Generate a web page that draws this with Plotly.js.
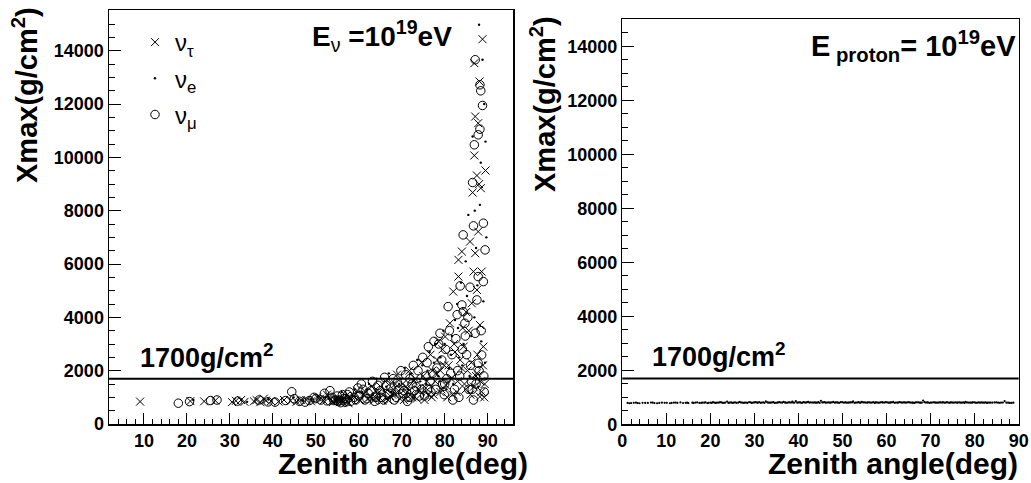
<!DOCTYPE html>
<html>
<head>
<meta charset="utf-8">
<script src="https://cdn.plot.ly/plotly-3.0.1.min.js"></script>
<style>html,body{margin:0;padding:0;background:#fff;}#chart{width:1031px;height:483px;}</style>
</head>
<body>
<div id="chart"></div>
<script>
// ---- data ----
const tauAngle = [9.1,20.8,24.0,26.6,30.5,31.4,32.6,33.4,35.6,36.2,37.1,37.9,38.4,39.6,41.3,42.6,44.1,45.5,47.8,50.3,52.6,54.5,55.2,56.3,57.0,58.4,59.6,61.0,62.1,63.0,63.9,64.8,65.5,66.2,67.3,68.0,68.9,69.6,70.2,70.9,71.8,72.4,73.1,73.8,74.6,75.3,75.9,76.7,77.4,78.0,78.6,79.2,79.9,80.1,80.6,81.2,81.5,82.0,82.4,82.8,83.2,83.2,83.6,84.0,84.2,84.6,85.0,85.3,85.9,86.0,86.3,86.5,86.7,86.9,86.9,87.1,87.1,87.3,87.5,87.5,87.5,87.8,87.8,88.0,88.1,88.2,88.2,88.4,88.6,88.6,88.8,89.0,89.3,89.5,55.6,56.0,57.6,53.8,66.8,71.0,77.0,79.0,
  46.5,48.9,51.0,51.8,53.1,54.0,54.9,55.9,56.7,57.3,58.9,60.3,61.6,62.6,63.5,64.4,65.1,66.5,67.8,68.5,69.2,70.5,71.3,72.0,72.8,73.5,74.2,75.0,75.6,76.3,77.1,77.8,78.3,79.0,79.5,80.3,80.9,81.8,82.2,83.0,83.9,84.4,84.9,85.6,86.2,86.8,87.6,88.3,88.9,89.2];
const tauXmax  = [840,860,850,880,820,870,900,830,850,900,820,950,880,860,840,900,870,830,900,1000,1100,880,950,820,1050,900,1250,1100,950,1400,1000,1200,880,1600,1050,1300,1850,950,1500,1150,2000,1000,1700,1300,2300,900,1600,2600,1100,1900,3100,1300,2200,3277,1000,3778,1700,4965,2700,1200,5528,6154,2400,6466,3600,1500,4200,2000,6840,1100,4528,8680,5715,10070,13530,6405,11530,1800,9318,5028,1902,7216,11280,8995,12845,3715,1024,8845,5715,1212,14430,2900,1500,9505,820,900,780,850,900,1400,1000,2000,
  900,850,950,880,1000,820,900,870,950,860,1050,900,1200,1000,880,1150,1400,950,1100,1500,1250,900,1350,1100,1600,950,1250,1800,1350,1100,2000,1600,2400,1200,2800,1450,2200,1100,3000,1600,2100,2900,1300,3500,2300,1400,2600,1600,2200,1000];

const eAngle = [21.5,34.0,39.0,44.8,47.0,50.5,53.0,56.0,58.6,60.2,61.8,63.3,64.1,65.8,67.0,68.6,69.4,70.7,71.5,72.9,73.6,74.3,75.1,76.0,76.5,77.1,77.9,78.5,79.0,79.7,80.4,81.0,81.7,82.4,82.9,83.4,83.8,84.4,84.9,85.5,85.8,86.5,86.9,87.3,87.8,88.0,88.2,88.5,88.8,89.0,89.5,89.4,89.6,89.7,
  45.9,49.0,52.2,54.8,57.2,59.1,60.8,62.4,64.8,66.4,67.6,69.9,72.2,74.8,75.7,77.5,78.8,80.0,81.4,82.0,83.1,84.1,85.2,86.2,87.0,87.6,88.4,89.2];
const eXmax  = [900,830,920,1000,880,1050,950,1200,1050,900,1300,1100,1700,1250,1900,1100,1500,2100,1300,1000,2400,1600,1100,2000,2700,1400,3000,1800,2500,3500,1300,2100,3300,3902,4500,2500,5300,3000,6100,7842,1800,10780,4000,6600,1400,14970,8218,3100,13660,4600,10590,2300,1700,7000,
  900,950,1000,850,1100,1300,1200,1500,1000,1400,1200,1700,1900,2200,1500,2300,1600,3000,2600,1500,3600,2200,4800,3300,8000,5200,9800,12000];

const muAngle = [18.0,20.6,25.5,27.0,31.8,36.8,38.9,40.5,43.0,44.4,45.0,46.2,48.5,49.6,51.2,52.0,53.3,54.2,55.0,55.8,56.6,57.4,58.1,58.9,59.8,60.6,61.4,62.2,62.9,63.7,64.5,65.3,66.0,66.8,67.5,68.3,69.0,69.8,70.5,71.3,71.9,72.7,73.4,74.1,74.9,75.6,76.2,76.8,77.5,78.2,78.9,79.5,80.2,80.8,81.4,81.9,82.6,83.0,83.6,84.0,84.3,84.3,84.7,85.1,85.6,85.9,86.2,86.5,86.7,86.7,87.1,87.1,87.5,87.8,87.8,87.8,88.2,88.2,88.4,88.6,88.8,86.9,89.0,89.0,89.4,89.2,55.4,56.9,64.0,72.0,76.0,80.0,83.3,
  47.5,50.0,52.6,53.8,54.6,55.3,56.2,57.0,57.8,59.3,60.0,61.0,61.9,63.2,64.0,65.0,65.8,66.4,67.2,68.0,68.7,69.4,70.2,70.9,71.6,72.4,73.0,73.8,74.6,75.3,75.9,76.6,77.2,77.9,78.6,79.3,79.9,80.5,81.1,81.7,82.3,82.9,83.5,84.1,84.8,85.4,86.0,86.4,87.3,88.0,88.5,89.1];
const muXmax  = [780,840,880,900,860,900,830,820,880,1210,950,850,880,1000,900,1150,1250,880,1050,800,950,1100,850,1000,1350,1500,900,1150,1250,850,1450,1000,1750,1100,1350,900,1550,2000,1250,850,1700,2200,1400,1050,2500,1800,2900,1200,3100,2100,3403,1500,2800,4402,1900,900,3200,2000,5178,4465,4214,7092,3778,2600,1300,5130,1600,9055,7430,900,3403,13660,4653,5528,10845,2277,11055,12720,12495,2589,11945,10470,5340,7530,6530,1200,900,820,1000,1000,1300,1500,1000,
  820,950,870,1000,900,850,1100,950,1200,900,1050,1300,950,1600,1050,1250,900,1450,1150,1700,1000,1300,1150,1850,1000,1500,1250,2000,1300,1050,2300,1600,1900,1300,3000,2400,1100,1700,3500,2600,1300,4100,1800,2800,3300,4000,2200,1300,1500,2000,3500,1800];

const protonAngle = [1.2,2.0,3.1,3.9,4.6,5.8,6.5,7.3,8.4,9.0,10.1,10.8,11.7,12.5,13.2,14.4,15.0,15.9,16.6,17.5,18.2,18.9,19.6,20.3,20.9,21.5,22.2,22.8,23.4,24.1,24.7,25.3,25.9,26.6,27.2,27.8,28.4,29.1,29.7,30.3,30.8,31.4,32.0,32.6,33.1,33.7,34.3,34.9,35.4,36.0,36.6,37.1,37.7,38.3,38.8,39.4,40.0,40.5,41.1,41.7,42.2,42.8,43.4,43.9,44.5,45.1,45.6,46.2,46.8,47.3,47.9,48.5,49.0,49.6,50.2,50.7,51.3,51.9,52.4,53.0,53.6,54.1,54.7,55.3,55.8,56.4,57.0,57.5,58.1,58.7,59.2,59.8,60.4,60.9,61.5,62.1,62.6,63.2,63.8,64.3,64.9,65.5,66.0,66.6,67.2,67.7,68.3,68.9,69.4,70.0,70.6,71.1,71.7,72.3,72.8,73.4,74.0,74.5,75.1,75.7,76.2,76.8,77.4,77.9,78.5,79.1,79.6,80.2,80.8,81.3,81.9,82.5,83.0,83.6,84.5,85.3,86.0,86.8,87.6,88.4,
  1.6,2.6,3.5,5.2,6.9,7.9,9.6,11.2,12.1,13.8,14.7,16.2,17.0,17.9,18.6,19.3,20.0,20.6,21.2,21.9,22.5,23.1,23.8,24.4,25.0,25.6,26.3,26.9,27.5,28.1,28.8,29.4,30.0,30.6,31.1,31.7,32.3,32.9,33.4,34.0,34.6,35.2,35.7,36.3,36.9,37.4,38.0,38.6,39.1,39.7,40.3,40.8,41.4,42.0,42.5,43.1,43.7,44.2,44.8,45.4,45.9,46.5,47.1,47.6,48.2,48.8,49.3,49.9,50.5,51.0,51.6,52.2,52.7,53.3,53.9,54.4,55.0,55.6,56.1,56.7,57.3,57.8,58.4,59.0,59.5,60.1,60.7,61.2,61.8,62.4,62.9,63.5,64.1,64.6,65.2,65.8,66.3,66.9,67.5,68.0,68.6,69.2,69.7,70.3,70.9,71.4,72.0,72.6,73.1,73.7,74.3,74.8,75.4,76.0,76.5,77.1,77.7,78.2,78.8,79.4,79.9,80.5,81.1,81.6,82.2,82.8,83.3,84.0,84.9,85.7,86.4,87.2,88.0,88.8];
const protonXmax  = [790,785,800,780,795,790,805,785,790,800,795,780,800,790,810,795,785,800,805,790,800,815,795,790,805,800,820,795,805,790,810,800,795,830,805,800,790,815,805,820,800,795,810,850,805,800,820,795,810,805,830,800,815,805,800,860,810,805,820,800,830,815,805,800,820,870,810,800,815,805,830,810,800,820,805,815,800,810,850,805,820,800,810,805,815,800,825,810,800,815,805,820,800,810,830,805,800,815,810,800,820,805,800,810,815,800,880,805,810,800,815,805,800,810,820,800,805,810,800,815,805,800,810,830,805,800,815,800,810,805,800,815,805,800,810,800,805,860,800,790,
  780,795,785,790,800,780,795,790,805,785,800,790,810,795,800,785,805,820,790,800,810,795,840,805,790,815,800,810,795,805,820,790,810,800,825,805,795,815,800,810,790,805,820,800,815,795,810,840,805,800,815,790,810,825,800,805,815,800,790,810,820,805,800,815,800,810,795,820,805,800,810,815,795,805,800,830,810,800,815,805,790,810,800,820,805,815,800,810,795,805,820,800,815,805,810,800,790,815,805,800,820,810,795,805,815,800,810,805,800,820,795,810,805,800,815,800,790,810,805,800,815,795,805,810,800,790,805,800,810,795,805,800,790,800,795,805];

const threshold = 1700;
const xTicksLeft  = [10,20,30,40,50,60,70,80,90];
const xTicksRight = [0,10,20,30,40,50,60,70,80,90];
const yTicks = [0,2000,4000,6000,8000,10000,12000,14000];

// ---- plot ----
const FONT = 'Liberation Sans, Arial, Helvetica, sans-serif';
const H = 483, W = 1031;
const py = v => 1 - v / H;   // pixel row -> paper y
const px = v => v / W;       // pixel col -> paper x

const traces = [
  {x: tauAngle, y: tauXmax, xaxis:'x', yaxis:'y', mode:'markers', type:'scatter', name:'ν<sub>τ</sub>', legendgroup:'a',
   marker:{symbol:'x-thin-open', size:8, color:'#000', line:{width:1, color:'#000'}}},
  {x: eAngle, y: eXmax, xaxis:'x', yaxis:'y', mode:'markers', type:'scatter', name:'ν<sub>e</sub>', legendgroup:'b',
   marker:{symbol:'circle', size:2.4, color:'#000'}},
  {x: muAngle, y: muXmax, xaxis:'x', yaxis:'y', mode:'markers', type:'scatter', name:'ν<sub>μ</sub>', legendgroup:'c',
   marker:{symbol:'circle-open', size:8.5, color:'#000', line:{width:1, color:'#000'}}},
  {x: protonAngle, y: protonXmax, xaxis:'x2', yaxis:'y2', mode:'markers', type:'scatter', showlegend:false,
   marker:{symbol:'circle', size:2.2, color:'#000'}}
];

const axBase = {
  showgrid:false, zeroline:false, showline:true, mirror:true, linecolor:'#000', linewidth:1.5,
  ticks:'inside', tickcolor:'#000', tickwidth:1, tickformat:'d',
  tickfont:{family:FONT, size:18, color:'#000', weight:'bold'},
};

const layout = {
  width:W, height:H, margin:{l:0,r:0,t:0,b:0}, paper_bgcolor:'#fff', plot_bgcolor:'#fff',
  showlegend:true,
  legend:{x:px(135), y:py(20), xanchor:'left', yanchor:'top', bgcolor:'rgba(0,0,0,0)',
          font:{family:FONT, size:24, color:'#000'}, tracegroupgap:2},
  xaxis:Object.assign({}, axBase, {domain:[px(109), px(513)], range:[1.86, 95.9], anchor:'y',
          tickvals:xTicksLeft, ticklen:11, minor:{ticks:'inside', dtick:2, tick0:0, ticklen:5, tickcolor:'#000'}}),
  yaxis:Object.assign({}, axBase, {domain:[py(424), py(10)], range:[0, 15525], anchor:'x',
          tickvals:yTicks, ticklen:12, minor:{ticks:'inside', dtick:500, tick0:0, ticklen:6, tickcolor:'#000'}}),
  xaxis2:Object.assign({}, axBase, {domain:[px(622.3), px(1018.7)], range:[0, 90], anchor:'y2',
          tickvals:xTicksRight, ticklen:11, minor:{ticks:'inside', dtick:2, tick0:0, ticklen:5, tickcolor:'#000'}}),
  yaxis2:Object.assign({}, axBase, {domain:[py(424.3), py(19.3)], range:[0, 15000], anchor:'x2',
          tickvals:yTicks, ticklen:12, minor:{ticks:'inside', dtick:500, tick0:0, ticklen:6, tickcolor:'#000'}}),
  shapes:[
    {type:'line', xref:'x domain', yref:'y', x0:0, x1:1, y0:threshold, y1:threshold, line:{color:'#000', width:2}},
    {type:'line', xref:'x2 domain', yref:'y2', x0:0, x1:1, y0:threshold, y1:threshold, line:{color:'#000', width:2}}
  ],
  annotations:[
    {xref:'x', yref:'y', x:8.7, y:1850, xanchor:'left', yanchor:'bottom', showarrow:false,
     text:'1700g/cm<sup>2</sup>', font:{family:FONT, size:27, color:'#000', weight:'bold'}},
    {xref:'x2', yref:'y2', x:6.4, y:1850, xanchor:'left', yanchor:'bottom', showarrow:false,
     text:'1700g/cm<sup>2</sup>', font:{family:FONT, size:27, color:'#000', weight:'bold'}},
    {xref:'paper', yref:'paper', x:px(454), y:py(14), xanchor:'right', yanchor:'top', showarrow:false,
     text:'E<sub><span style="font-weight:normal">ν</span></sub> =10<sup>19</sup>eV', font:{family:FONT, size:28, color:'#000', weight:'bold'}},
    {xref:'paper', yref:'paper', x:px(1018), y:py(24), xanchor:'right', yanchor:'top', showarrow:false,
     text:'E<sub> proton</sub>= 10<sup>19</sup>eV', font:{family:FONT, size:29, color:'#000', weight:'bold'}},
    {xref:'paper', yref:'paper', x:px(530), y:py(482), xanchor:'right', yanchor:'bottom', showarrow:false,
     text:'Zenith angle(deg)', font:{family:FONT, size:30, color:'#000', weight:'bold'}},
    {xref:'paper', yref:'paper', x:px(1020), y:py(482), xanchor:'right', yanchor:'bottom', showarrow:false,
     text:'Zenith angle(deg)', font:{family:FONT, size:30, color:'#000', weight:'bold'}},
    {xref:'paper', yref:'paper', x:px(25), y:py(5), xanchor:'center', yanchor:'top', showarrow:false, textangle:-90,
     text:'Xmax(g/cm<sup>2</sup>)', font:{family:FONT, size:29, color:'#000', weight:'bold'}},
    {xref:'paper', yref:'paper', x:px(543), y:py(14), xanchor:'center', yanchor:'top', showarrow:false, textangle:-90,
     text:'Xmax(g/cm<sup>2</sup>)', font:{family:FONT, size:29, color:'#000', weight:'bold'}}
  ]
};

Plotly.newPlot('chart', traces, layout, {staticPlot:true, displayModeBar:false});
</script>
</body>
</html>
